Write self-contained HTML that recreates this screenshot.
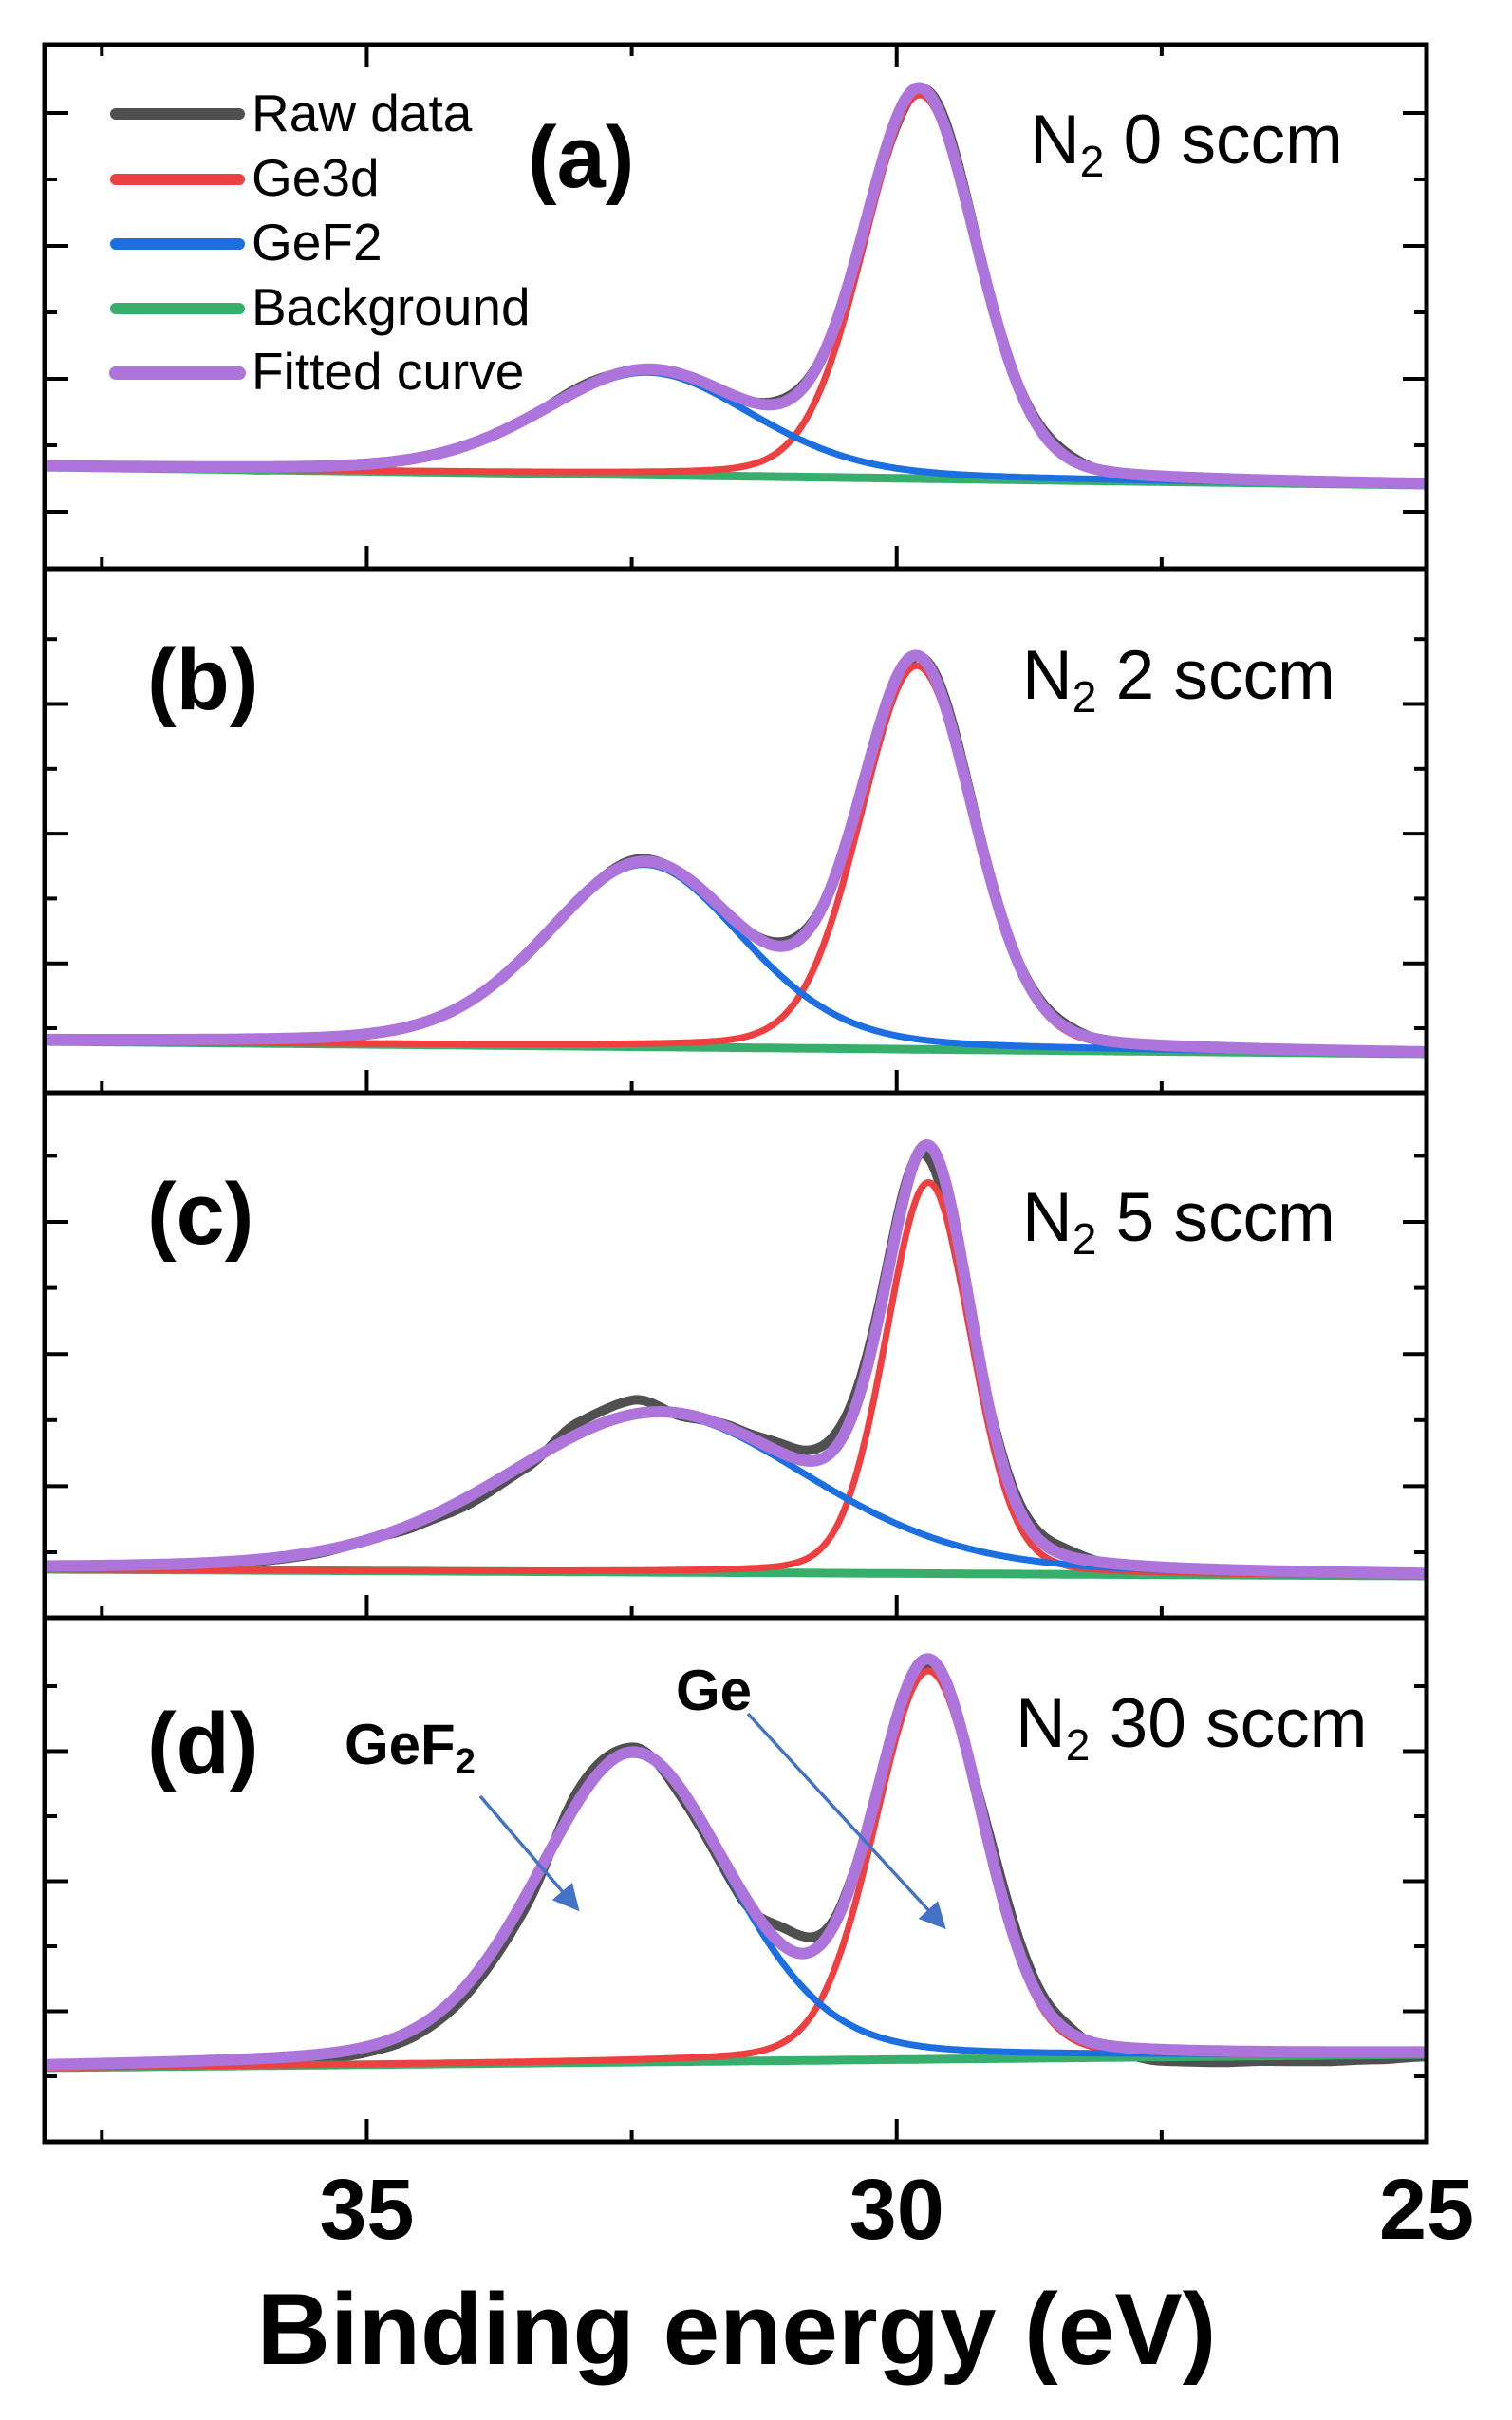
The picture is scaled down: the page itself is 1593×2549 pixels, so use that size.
<!DOCTYPE html>
<html><head><meta charset="utf-8">
<style>
html,body{margin:0;padding:0;background:#fff;}
svg{display:block;}
text{font-family:"Liberation Sans",Arial,sans-serif;}
</style></head>
<body>
<svg id="chart" width="1593" height="2549" viewBox="0 0 1593 2549" xmlns="http://www.w3.org/2000/svg">
<defs>
<marker id="ah" markerWidth="8" markerHeight="8" refX="6" refY="4" orient="auto" markerUnits="strokeWidth">
<path d="M0,0 L8,4 L0,8 z" fill="#4472c4"/>
</marker>
</defs>
<g id="plots"></g>
<g id="frames"></g>
<g>
<line x1="122" y1="120" x2="252" y2="120" stroke="#505050" stroke-width="12" stroke-linecap="round"/>
<text x="265" y="138" font-size="55">Raw data</text>
<line x1="122" y1="189" x2="252" y2="189" stroke="#ee4040" stroke-width="12" stroke-linecap="round"/>
<text x="265" y="206" font-size="55">Ge3d</text>
<line x1="122" y1="257" x2="252" y2="257" stroke="#1c6fe0" stroke-width="12" stroke-linecap="round"/>
<text x="265" y="274" font-size="55">GeF2</text>
<line x1="122" y1="325" x2="252" y2="325" stroke="#37ae6b" stroke-width="12" stroke-linecap="round"/>
<text x="265" y="342" font-size="55">Background</text>
<line x1="122" y1="393" x2="252" y2="393" stroke="#ad75dc" stroke-width="14" stroke-linecap="round"/>
<text x="265" y="410" font-size="55">Fitted curve</text>
</g>
<text x="556" y="197" font-size="92" font-weight="bold">(a)</text>
<text x="155" y="747" font-size="92" font-weight="bold">(b)</text>
<text x="155" y="1310" font-size="92" font-weight="bold">(c)</text>
<text x="155" y="1868" font-size="92" font-weight="bold">(d)</text>
<text x="1085" y="172" font-size="73">N<tspan font-size="46" dy="14">2</tspan><tspan dy="-14"> 0 sccm</tspan></text>
<text x="1077" y="736" font-size="73">N<tspan font-size="46" dy="14">2</tspan><tspan dy="-14"> 2 sccm</tspan></text>
<text x="1077" y="1307" font-size="73">N<tspan font-size="46" dy="14">2</tspan><tspan dy="-14"> 5 sccm</tspan></text>
<text x="1070" y="1840" font-size="73">N<tspan font-size="46" dy="14">2</tspan><tspan dy="-14"> 30 sccm</tspan></text>
<text x="712" y="1801" font-size="60" font-weight="bold">Ge</text>
<text x="363" y="1858" font-size="60" font-weight="bold">GeF<tspan font-size="38" dy="10">2</tspan></text>
<line x1="506" y1="1892" x2="606" y2="2008" stroke="#4472c4" stroke-width="3.5" marker-end="url(#ah)"/>
<line x1="788" y1="1805" x2="992" y2="2027" stroke="#4472c4" stroke-width="3.5" marker-end="url(#ah)"/>
<g id="xticklabels"></g>
<text x="776" y="2490" font-size="107" font-weight="bold" text-anchor="middle">Binding energy (eV)</text>
</svg>
<script>
const panelNames = ['a','b','c','d'];
const geCenter = [29.78, 29.81, 29.70, 29.70];
const geAmp = [404, 404, 412, 409];
const geFwhm = [1.26, 1.26, 0.95, 1.2];
const gef2Center = [32.35, 32.38, 32.25, 32.49];
const gef2Amp = [108, 192, 167, 324];
const gef2Fwhm = [2.35, 2.2, 3.4, 2.15];
const bgLeft = [107, 54, 51, 78];
const bgRight = [88, 41, 44, 92];
const rawEnergies = [38,37.5,37,36.5,36,35.5,35,34.5,34,33.5,33,32.5,32,31.5,31,30.5,30,29.5,29,28.5,28,27.5,27,26.5,26,25.5,25];
const rawResidA = [0,0,0,0,-3,-2,0,0,0,0,3,0,0,0,4,0,-8,8,2,5,0,0,0,0,0,0,0];
const rawResidB = [0,0,0,0,-2,-2,0,0,0,0,0,3,0,0,5,0,-6,8,2,4,0,0,0,0,0,0,0];
const rawResidC = [0,0,0,0,-2,-2,0,-4,-8,-5,12,15,-3,3,10,15,10,-25,8,8,0,0,0,-3,0,0,0];
const rawResidD = [0,0,0,0,-3,-5,-6,-8,-10,-12,12,5,-8,-8,20,5,-10,-5,15,8,-5,-12,-12,-10,-10,-8,-5];
const rawResid = [rawResidA, rawResidB, rawResidC, rawResidD];
const xTicksMajor = [35, 30, 25];
const xTicksMinor = [37.5, 32.5, 27.5];
const xTickLabels = ['35','30','25'];

const L = 47, R = 1503;
const panelTop = [47, 599, 1151, 1704];
const panelBot = [599, 1151, 1704, 2256];
const yTickStart = [60, 68, 69, 69];
const yTickStep = [70, 68.3, 69.6, 68.5];
const yTickMajorParity = [0, 1, 1, 1];
const XMAX = 38.04, XMIN = 25;
function xs(e){ return L + (XMAX - e) / (XMAX - XMIN) * (R - L); }
function ys(p, v){ return panelBot[p] - v; }
function pv(x, c, f, eta){
  const d = (x - c) / f;
  const G = Math.exp(-4 * Math.LN2 * d * d);
  const Lo = 1 / (1 + 4 * d * d);
  return eta * Lo + (1 - eta) * G;
}
function bg(p, x){ return bgLeft[p] + (bgRight[p] - bgLeft[p]) * (XMAX - x) / (XMAX - XMIN); }
function ge(p, x){ return geAmp[p] * pv(x, geCenter[p], geFwhm[p], 0.15); }
function gef(p, x){ return gef2Amp[p] * pv(x, gef2Center[p], gef2Fwhm[p], 0.25); }
function resid(p, x){
  const arr = rawResid[p];
  const t = (38 - x) / 0.5;
  if (t <= 0) return arr[0];
  if (t >= arr.length - 1) return arr[arr.length - 1];
  const i = Math.floor(t), f = t - i;
  const s = (1 - Math.cos(f * Math.PI)) / 2;
  return arr[i] * (1 - s) + arr[i + 1] * s;
}
const NS = 'http://www.w3.org/2000/svg';
const plots = document.getElementById('plots');
const frames = document.getElementById('frames');
function mk(tag, attrs){ const e = document.createElementNS(NS, tag); for (const k in attrs) e.setAttribute(k, attrs[k]); return e; }
const defs = document.querySelector('defs');
for (let p = 0; p < 4; p++){
  const cp = mk('clipPath', {id: 'clip' + p});
  cp.appendChild(mk('rect', {x: L, y: panelTop[p], width: R - L, height: panelBot[p] - panelTop[p]}));
  defs.appendChild(cp);
  const g = mk('g', {'clip-path': 'url(#clip' + p + ')'});
  
  
  plots.appendChild(g);
  const fns = [
    ['raw-data', '#505050', 10, x => bg(p, x) + ge(p, x) + gef(p, x) + resid(p, x)],
    ['background', '#37ae6b', 9, x => bg(p, x)],
    ['ge3d', '#ee4040', 7, x => bg(p, x) + ge(p, x)],
    ['gef2', '#1c6fe0', 7, x => bg(p, x) + gef(p, x)],
    ['fitted-curve', '#ad75dc', 12, x => bg(p, x) + ge(p, x) + gef(p, x)]
  ];
  for (const [nm, col, w, fn] of fns){
    let d = '';
    for (let x = XMAX + 0.1; x >= XMIN - 0.1; x -= 0.02){
      d += (d ? 'L' : 'M') + xs(x).toFixed(1) + ',' + ys(p, fn(x)).toFixed(1);
    }
    const path = mk('path', {d: d, fill: 'none', stroke: col, 'stroke-width': w, 'stroke-linejoin': 'round'});
    
    
    g.appendChild(path);
  }
  const fr = mk('rect', {x: L, y: panelTop[p], width: R - L, height: panelBot[p] - panelTop[p], fill: 'none', stroke: '#000', 'stroke-width': 5});
  
  
  frames.appendChild(fr);
  for (let k = 0; ; k++){
    const v = yTickStart[p] + k * yTickStep[p];
    if (v > panelBot[p] - panelTop[p] - 8) break;
    const major = (k % 2) === yTickMajorParity[p];
    const len = major ? 25 : 13;
    const y = ys(p, v);
    const t1 = mk('line', {x1: L, y1: y, x2: L + len, y2: y, stroke: '#000', 'stroke-width': 4});
    
    
    frames.appendChild(t1);
    const t2 = mk('line', {x1: R, y1: y, x2: R - len, y2: y, stroke: '#000', 'stroke-width': 4});
    
    
    frames.appendChild(t2);
  }
  const tickSet = xTicksMajor.map(v => [v, 24]).concat(xTicksMinor.map(v => [v, 12]));
  for (const [v, len] of tickSet){
    if (v <= XMIN + 0.01) continue;
    const x = xs(v);
    const t = mk('line', {x1: x, y1: panelBot[p], x2: x, y2: panelBot[p] - len, stroke: '#000', 'stroke-width': 4});
    
    
    frames.appendChild(t);
    if (p === 0){
      const t3 = mk('line', {x1: x, y1: panelTop[0], x2: x, y2: panelTop[0] + len, stroke: '#000', 'stroke-width': 4});
      
      
      frames.appendChild(t3);
    }
  }
}
const tl = document.getElementById('xticklabels');
xTicksMajor.forEach((v, i) => {
  const t = mk('text', {x: xs(v), y: 2358, 'font-size': 90, 'font-weight': 'bold', 'text-anchor': 'middle'});
  t.textContent = xTickLabels[i];
  
  
  tl.appendChild(t);
});
</script>
</body></html>
